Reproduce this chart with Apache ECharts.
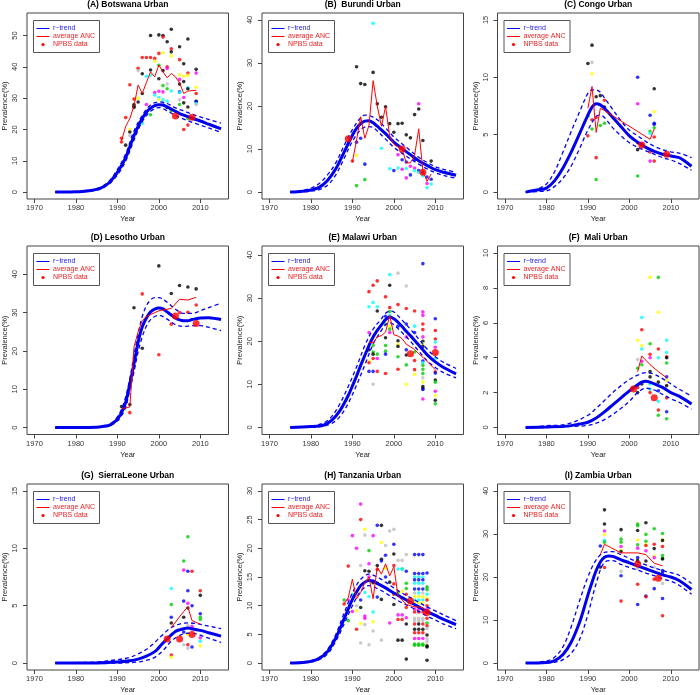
<!DOCTYPE html>
<html><head><meta charset="utf-8">
<script src="https://cdn.jsdelivr.net/npm/echarts@6/dist/echarts.min.js"></script>
<style>html,body{margin:0;padding:0;background:#fff}#c{width:700px;height:695px}</style>
</head><body><div id="c"></div>
<script>
// ---------- DATA ----------
const titles = ['(A) Botswana Urban','(B)  Burundi Urban','(C) Congo Urban','(D) Lesotho Urban','(E) Malawi Urban','(F)  Mali Urban','(G)  SierraLeone Urban','(H) Tanzania Urban','(I) Zambia Urban'];
const xTicks = [1970,1980,1990,2000,2010];
const yTicksA = [0,10,20,30,40,50];
const yTicksB = [0,10,20,30,40];
const yTicksC = [0,5,10,15];
const yTicksD = [0,10,20,30,40];
const yTicksE = [0,10,20,30,40];
const yTicksF = [0,2,4,6,8,10];
const yTicksG = [0,5,10,15];
const yTicksH = [0,5,10,15,20,25,30];
const yTicksI = [0,10,20,30,40];
const legendLabels = ['r\u2212trend','average ANC','NPBS data'];
// site index of each ANC clinic: 1..8 (R default palette order)

// (A) Botswana
const trendA = [[1975,0],[1978,0.05],[1980,0.1],[1982,0.3],[1984,0.6],[1985,0.9],[1986,1.3],[1987,2.0],[1988,3.0],[1989,4.5],[1990,6.3],[1991,8.5],[1992,11],[1993,14.5],[1994,18],[1995,21],[1996,23.5],[1997,25.5],[1998,26.8],[1999,27.6],[2000,27.9],[2001,27.8],[2002,27.2],[2003,26.5],[2004,25.8],[2005,25.1],[2006,24.6],[2007,24.1],[2008,23.6],[2010,22.7],[2012,21.7],[2015,20.2]];
const upA = [[1975,0],[1980,0.15],[1984,0.8],[1986,1.6],[1988,3.5],[1990,7.2],[1992,12.2],[1994,19.5],[1996,24.5],[1998,27.8],[2000,28.8],[2002,28.3],[2004,26.9],[2006,25.9],[2008,24.9],[2010,24.0],[2012,23.2],[2015,22.0]];
const loA = [[1975,0],[1980,0.05],[1984,0.45],[1986,1.0],[1988,2.6],[1990,5.5],[1992,9.9],[1994,16.6],[1996,22.5],[1998,25.8],[2000,27.0],[2002,26.0],[2004,24.4],[2006,23.3],[2008,22.3],[2010,21.4],[2012,20.5],[2015,19.1]];
const ancA = [[1991,16.3],[1992,21],[1993,23.5],[1994,27.5],[1995,34.2],[1996,31.5],[1997,35],[1998,38.4],[1999,36.8],[2000,40.6],[2001,38.4],[2002,36.5],[2003,37.9],[2004,36.8],[2005,34.9],[2006,31.5],[2007,32.3],[2009,32.5]];
const npbsA = [[2004,24.3],[2008,23.9]];
const ptsA = [[1991,17.2,2],[1991,16.0,2],[1992,15.0,1],[1992,23.8,2],[1993,34.3,2],[1993,20.0,7],[1993,19.2,1],[1993,18.1,8],[1994,28.0,1],[1994,27.4,1],[1994,27.0,1],[1994,29.7,2],[1995,39.5,2],[1995,38.8,8],[1995,30.0,7],[1995,28.8,1],[1996,43.0,2],[1996,37.8,1],[1996,31.5,1],[1996,22.0,5],[1997,43.0,2],[1997,28.0,6],[1997,37.0,5],[1998,50.0,1],[1998,43.0,2],[1998,39.0,1],[1998,37.3,5],[1998,24.7,3],[1999,42.7,2],[1999,41.8,7],[1999,31.8,6],[1999,31.0,5],[2000,50.2,1],[2000,44.3,2],[2000,40.5,3],[2000,36.2,1],[2000,32.2,6],[2000,30.2,5],[2000,29.5,7],[2001,50.0,1],[2001,49.5,2],[2001,44.5,7],[2001,38.8,1],[2001,34.0,3],[2001,32.0,6],[2001,29.5,5],[2001,28.6,8],[2002,48.0,1],[2002,40.0,2],[2002,39.5,6],[2002,34.5,8],[2002,33.0,3],[2002,29.0,5],[2002,27.0,1],[2003,52.0,1],[2003,45.8,2],[2003,44.8,1],[2003,43.5,7],[2003,32.3,5],[2003,26.0,3],[2005,46.4,1],[2005,42.3,2],[2005,37.5,7],[2005,36.0,6],[2005,34.5,1],[2005,32.0,4],[2005,31.8,5],[2005,29.5,8],[2005,28.0,3],[2006,41.0,1],[2006,37.0,7],[2006,35.3,1],[2006,30.2,6],[2006,28.5,1],[2006,20.0,2],[2007,48.9,1],[2007,38.0,2],[2007,37.3,7],[2007,33.3,5],[2007,33.0,1],[2007,27.2,1],[2007,23.5,3],[2007,21.4,2],[2009,39.2,1],[2009,38.0,6],[2009,33.5,7],[2009,31.5,2],[2009,29.0,1],[2009,28.9,4],[2009,28.3,5],[2009,28.0,8]];

// (B) Burundi
const trendB = [[1975,0],[1978,0.2],[1980,0.5],[1982,1.1],[1984,2.7],[1986,5.4],[1988,9.3],[1990,13.2],[1991,14.8],[1992,15.9],[1993,16.5],[1994,16.6],[1995,16.1],[1996,15.3],[1998,13.6],[2000,11.6],[2002,10.1],[2004,8.7],[2006,7.3],[2008,6.2],[2010,5.2],[2012,4.6],[2015,3.9]];
const upB = [[1975,0],[1978,0.4],[1980,0.9],[1982,2.0],[1984,4.0],[1986,6.8],[1988,10.8],[1990,14.5],[1992,17.3],[1993,17.9],[1994,17.8],[1996,16.8],[1998,14.9],[2000,12.8],[2002,11.2],[2004,9.6],[2006,8.1],[2008,6.9],[2010,5.9],[2012,5.3],[2015,4.6]];
const loB = [[1975,0],[1978,0.1],[1980,0.2],[1982,0.6],[1984,1.6],[1986,4.0],[1988,7.8],[1990,11.8],[1992,14.5],[1993,15.1],[1994,15.2],[1995,15.0],[1996,14.2],[1998,12.3],[2000,10.4],[2002,9.0],[2004,7.7],[2006,6.5],[2008,5.4],[2010,4.5],[2012,3.9],[2015,3.2]];
const ancB = [[1990,7.0],[1991,12.0],[1992,17.5],[1993,12.5],[1994,15.5],[1995,25.9],[1996,20.0],[1997,15.3],[1998,19.8],[1999,13.0],[2000,11.1],[2001,10.5],[2002,10.0],[2003,6.8],[2004,6.8],[2005,8.5],[2006,14.7],[2007,5.0],[2008,2.5],[2009,4.2]];
const npbsB = [[1989,12.4],[2002,10.0],[2007,4.6]];
const ptsB = [[1990,7.2,2],[1991,29.1,1],[1991,11.6,4],[1991,8.5,7],[1991,1.5,3],[1992,25.2,1],[1992,12.5,4],[1992,16.0,2],[1993,25.0,1],[1993,6.5,4],[1993,2.9,3],[1995,39.2,5],[1995,27.8,1],[1996,20.5,1],[1997,17.4,1],[1997,10.2,5],[1998,19.8,1],[1999,15.9,1],[1999,5.4,5],[2000,13.9,1],[2000,5.0,4],[2001,15.9,1],[2001,8.7,6],[2001,5.6,5],[2002,16.0,1],[2002,7.5,4],[2002,5.3,6],[2003,13.3,1],[2003,7.0,4],[2003,5.5,5],[2003,3.3,6],[2004,12.6,1],[2004,6.0,6],[2004,4.0,4],[2005,18.0,1],[2005,7.5,4],[2005,5.6,6],[2005,5.0,5],[2006,20.5,6],[2006,19.3,1],[2006,5.0,4],[2006,4.6,5],[2007,12.0,1],[2007,4.5,4],[2007,3.8,5],[2008,3.5,4],[2008,2.0,6],[2008,1.0,5],[2009,7.2,1],[2009,3.0,4],[2009,1.9,5]];

// (C) Congo
const trendC = [[1975,0],[1978,0.2],[1980,0.35],[1982,1.0],[1984,2.1],[1986,3.5],[1988,5.1],[1990,6.7],[1991,7.4],[1992,7.7],[1993,7.6],[1994,7.3],[1996,6.5],[1998,5.7],[2000,4.9],[2002,4.35],[2004,3.9],[2006,3.55],[2008,3.3],[2010,3.15],[2012,3.0],[2013,2.8],[2015,2.25]];
const upC = [[1975,0],[1978,0.3],[1980,0.7],[1982,1.8],[1984,3.5],[1986,5.3],[1988,7.0],[1990,8.6],[1991,8.9],[1992,8.9],[1993,8.7],[1994,8.2],[1996,7.2],[1998,6.2],[2000,5.4],[2002,4.9],[2004,4.4],[2006,4.0],[2008,3.7],[2010,3.5],[2012,3.4],[2015,3.0]];
const loC = [[1975,0],[1978,0.05],[1980,0.1],[1982,0.5],[1984,1.2],[1986,2.3],[1988,3.8],[1990,5.4],[1992,6.6],[1993,6.7],[1994,6.5],[1996,5.6],[1998,4.9],[2000,4.3],[2002,3.9],[2004,3.6],[2006,3.3],[2008,3.0],[2010,2.8],[2012,2.5],[2015,1.9]];
const ancC = [[1990,7.3],[1991,9.2],[1992,5.2],[1993,7.3],[1994,7.1],[2005,4.6],[2006,5.5]];
const npbsC = [[2003,4.1],[2009,3.3]];
const ptsC = [[1990,11.2,1],[1990,6.6,3],[1990,4.9,2],[1991,12.8,1],[1991,11.3,8],[1991,10.3,7],[1991,6.3,2],[1991,5.5,3],[1992,8.3,1],[1992,6.5,2],[1992,3.0,2],[1992,1.1,3],[1993,8.4,1],[1993,5.8,3],[1994,7.4,1],[1994,8.0,2],[1994,6.0,3],[2002,10.0,4],[2002,7.7,6],[2002,4.3,2],[2002,3.7,1],[2002,1.4,3],[2003,4.2,6],[2005,6.7,4],[2005,5.3,3],[2005,5.1,5],[2005,3.5,2],[2005,2.7,6],[2006,9.0,1],[2006,7.0,7],[2006,6.0,4],[2006,5.9,4],[2006,5.6,3],[2006,4.8,2],[2006,2.7,2]];

// (D) Lesotho
const trendD = [[1975,0],[1985,0.1],[1987,0.4],[1988,0.6],[1989,1.2],[1990,2.2],[1991,3.9],[1992,6.6],[1993,11.4],[1994,16.6],[1995,22.3],[1996,26.3],[1997,28.6],[1998,30.2],[1999,30.9],[2000,31.2],[2001,31.0],[2002,30.2],[2003,29.4],[2004,28.6],[2005,28.1],[2006,27.9],[2007,27.9],[2008,28.2],[2010,28.6],[2012,28.7],[2014,28.4],[2015,28.2]];
const upD = [[1975,0],[1985,0.15],[1988,0.8],[1990,2.8],[1991,4.8],[1992,8.0],[1993,12.8],[1994,18.8],[1995,24.5],[1996,29.0],[1997,31.8],[1998,33.3],[1999,33.9],[2000,33.9],[2002,32.7],[2004,30.9],[2006,29.8],[2008,29.8],[2010,30.5],[2012,31.3],[2015,32.5]];
const loD = [[1975,0],[1985,0.05],[1988,0.45],[1990,1.7],[1991,3.1],[1992,5.3],[1993,9.8],[1994,14.5],[1995,19.8],[1996,23.7],[1997,26.5],[1998,28.2],[1999,29.0],[2000,29.3],[2002,28.3],[2004,26.9],[2006,26.4],[2008,26.6],[2010,26.6],[2012,26.2],[2015,25.3]];
const ancD = [[1991,5.0],[1992,5.1],[1993,5.4],[1994,21.0],[1995,25.0],[1996,28.0],[1997,29.0],[1998,29.5],[2000,30.5],[2003,31.1],[2005,33.5],[2007,33.3],[2009,34.0]];
const npbsD = [[2004,29.1],[2009,27.2]];
const ptsD = [[1991,5.5,1],[1993,6.0,1],[1993,10.9,2],[1993,3.9,2],[1994,31.3,1],[1996,34.9,2],[1996,20.7,1],[2000,42.2,1],[2000,19.0,2],[2003,35.0,1],[2003,27.0,2],[2005,37.1,1],[2005,30.0,2],[2007,36.7,1],[2007,30.1,2],[2009,36.2,1],[2009,32.0,2]];

// (E) Malawi
const trendE = [[1975,0],[1980,0.2],[1983,0.5],[1985,1.6],[1987,3.9],[1989,7.4],[1990,9.6],[1991,11.9],[1992,14.4],[1993,16.7],[1994,19.0],[1995,21.0],[1996,22.5],[1997,23.8],[1998,25.0],[1999,25.6],[2000,25.2],[2001,24.4],[2002,23.4],[2003,22.3],[2004,21.3],[2005,20.2],[2006,19.1],[2007,18.0],[2008,16.9],[2010,15.2],[2012,13.9],[2015,12.4]];
const upE = [[1975,0],[1980,0.3],[1983,1.0],[1985,2.5],[1987,5.5],[1989,9.5],[1991,14.0],[1993,19.0],[1995,22.8],[1997,25.2],[1998,26.5],[1999,27.0],[2000,26.8],[2002,24.9],[2004,22.8],[2006,20.5],[2008,18.2],[2010,16.4],[2012,15.1],[2015,13.7]];
const loE = [[1975,0],[1980,0.1],[1983,0.3],[1985,0.9],[1987,2.5],[1989,5.6],[1991,9.8],[1993,14.5],[1995,19.3],[1997,22.5],[1998,23.8],[1999,24.3],[2000,23.8],[2002,22.0],[2004,20.0],[2006,17.7],[2008,15.5],[2010,13.9],[2012,12.7],[2015,11.5]];
const ancE = [[1994,19.8],[1995,19.6],[1996,21.0],[1997,21.3],[1998,22.1],[1999,26.0],[2000,21.5],[2001,21.2],[2002,20.6],[2003,19.3],[2004,18.7],[2005,18.1],[2006,17.1],[2007,16.3],[2010,13.4]];
const npbsE = [[2004,17.1],[2010,17.4]];
const ptsE = [[1994,31.5,2],[1994,28.0,5],[1994,22.0,6],[1994,18.0,1],[1994,15.4,7],[1994,15.0,2],[1994,13.0,4],[1995,33.0,2],[1995,29.0,5],[1995,19.0,3],[1995,17.5,3],[1995,17.0,1],[1995,16.0,2],[1995,13.0,4],[1995,10.0,8],[1996,34.0,2],[1996,28.0,5],[1996,27.0,1],[1996,17.0,3],[1996,16.0,6],[1996,13.0,2],[1998,30.3,2],[1998,25.8,4],[1998,24.0,3],[1998,20.8,1],[1998,19.0,3],[1998,17.7,3],[1998,17.0,4],[1998,12.5,2],[1999,35.5,5],[1999,33.0,1],[1999,27.8,2],[1999,26.9,3],[1999,26.0,5],[1999,23.5,7],[1999,22.8,3],[1999,22.0,6],[2001,35.8,8],[2001,28.5,2],[2001,23.5,4],[2001,20.1,1],[2001,19.2,7],[2001,18.8,1],[2001,16.4,3],[2001,13.5,2],[2003,32.8,8],[2003,27.6,2],[2003,24.0,4],[2003,21.0,6],[2003,18.0,4],[2003,16.8,1],[2003,14.5,3],[2003,10.0,7],[2005,27.0,2],[2005,23.5,5],[2005,22.0,4],[2005,17.5,3],[2005,15.5,2],[2005,13.4,2],[2005,12.3,7],[2007,38.0,4],[2007,26.8,6],[2007,26.0,6],[2007,24.0,2],[2007,22.7,2],[2007,21.0,6],[2007,20.0,1],[2007,19.4,7],[2007,18.8,1],[2007,15.4,4],[2007,15.0,5],[2007,14.4,3],[2007,13.5,3],[2007,12.5,3],[2007,11.5,8],[2007,10.5,7],[2007,9.5,1],[2007,9.0,1],[2007,8.8,4],[2007,6.6,6],[2010,25.2,4],[2010,22.5,2],[2010,20.5,2],[2010,19.8,5],[2010,18.6,6],[2010,17.0,8],[2010,16.0,5],[2010,12.9,2],[2010,12.6,4],[2010,11.0,1],[2010,10.5,3],[2010,8.4,6],[2010,7.4,7],[2010,6.3,1],[2010,5.5,3]];

// (F) Mali
const trendF = [[1975,0],[1980,0.03],[1985,0.08],[1988,0.2],[1990,0.3],[1992,0.55],[1994,0.9],[1996,1.3],[1998,1.7],[2000,2.1],[2002,2.45],[2003,2.6],[2004,2.65],[2005,2.6],[2006,2.5],[2008,2.3],[2010,2.0],[2012,1.8],[2015,1.35]];
const upF = [[1975,0],[1980,0.1],[1985,0.2],[1990,0.7],[1992,1.1],[1994,1.55],[1996,2.0],[1998,2.4],[2000,2.75],[2002,3.0],[2004,3.15],[2006,3.05],[2008,2.8],[2010,2.5],[2012,2.2],[2015,1.8]];
const loF = [[1975,0],[1980,0],[1985,0.05],[1990,0.12],[1992,0.25],[1994,0.45],[1996,0.75],[1998,1.1],[2000,1.5],[2002,2.0],[2004,2.25],[2006,2.15],[2008,1.9],[2010,1.65],[2012,1.45],[2015,1.05]];
const ancF = [[2002,3.2],[2003,4.1],[2005,3.6],[2007,3.2],[2009,2.85]];
const npbsF = [[2001,2.2],[2006,1.7]];
const ptsF = [[2002,5.0,7],[2002,3.9,8],[2002,3.4,3],[2002,2.3,2],[2002,2.0,1],[2003,6.3,5],[2003,5.6,2],[2003,4.7,7],[2003,4.5,5],[2003,3.8,6],[2003,3.6,3],[2003,2.5,1],[2005,8.6,7],[2005,4.8,3],[2005,4.2,2],[2005,4.0,6],[2005,3.2,1],[2005,2.9,1],[2005,2.5,5],[2005,2.2,5],[2005,2.0,2],[2007,8.6,3],[2007,6.6,7],[2007,4.5,2],[2007,4.0,5],[2007,2.6,1],[2007,2.1,4],[2007,1.5,5],[2007,1.0,2],[2007,0.7,3],[2009,5.0,5],[2009,4.3,5],[2009,4.05,2],[2009,4.0,1],[2009,3.7,3],[2009,2.9,4],[2009,2.7,7],[2009,2.4,1],[2009,1.7,2],[2009,0.9,4],[2009,0.5,3]];

// (G) Sierra Leone
const trendG = [[1975,0],[1985,0.02],[1990,0.1],[1993,0.2],[1995,0.35],[1997,0.6],[1999,1.0],[2000,1.35],[2001,1.75],[2002,2.1],[2003,2.45],[2004,2.75],[2005,2.9],[2006,3.0],[2007,3.05],[2008,3.0],[2010,2.85],[2012,2.65],[2015,2.35]];
const upG = [[1975,0],[1980,0.05],[1985,0.1],[1990,0.3],[1993,0.5],[1995,0.8],[1997,1.2],[1999,1.8],[2001,2.5],[2003,3.1],[2005,3.4],[2007,3.5],[2009,3.45],[2011,3.3],[2013,3.15],[2015,3.0]];
const loG = [[1975,0],[1990,0],[1995,0.1],[1997,0.25],[1999,0.5],[2001,1.1],[2003,1.9],[2005,2.4],[2007,2.6],[2009,2.55],[2011,2.3],[2013,2.05],[2015,1.8]];
const ancG = [[2003,3.1],[2006,4.5],[2007,4.9],[2008,3.7],[2010,3.4]];
const npbsG = [[2002,2.1],[2005,2.1],[2008,2.5]];
const ptsG = [[2003,6.5,5],[2003,5.1,3],[2003,4.0,4],[2003,3.5,1],[2003,0.7,2],[2003,0.5,7],[2006,8.9,3],[2006,8.1,6],[2006,5.4,4],[2006,4.0,1],[2006,2.7,4],[2006,1.6,8],[2007,11.0,3],[2007,8.0,4],[2007,6.3,4],[2007,5.2,6],[2007,4.8,1],[2007,3.3,8],[2007,2.5,7],[2007,1.6,2],[2007,1.3,8],[2008,8.0,2],[2008,5.0,4],[2008,3.2,6],[2008,2.9,8],[2008,1.4,4],[2010,6.3,2],[2010,5.9,1],[2010,4.3,4],[2010,4.0,3],[2010,3.8,3],[2010,2.2,6],[2010,1.9,5],[2010,1.5,7]];

// (H) Tanzania
const trendH = [[1975,0],[1978,0.1],[1980,0.3],[1982,0.8],[1984,2.0],[1986,4.4],[1988,7.7],[1990,11.1],[1991,12.4],[1992,13.5],[1993,14.1],[1994,14.4],[1995,14.3],[1996,13.9],[1998,13.1],[2000,12.2],[2002,11.4],[2004,10.6],[2006,9.8],[2008,9.0],[2010,8.3],[2012,7.6],[2015,6.7]];
const upH = [[1975,0],[1980,0.4],[1982,1.0],[1984,2.4],[1986,5.0],[1988,8.7],[1990,12.2],[1992,14.6],[1994,15.5],[1996,15.0],[1998,14.1],[2000,13.1],[2002,12.2],[2004,11.4],[2006,10.6],[2008,9.8],[2010,9.1],[2012,8.4],[2015,7.4]];
const loH = [[1975,0],[1980,0.2],[1982,0.6],[1984,1.6],[1986,3.8],[1988,6.8],[1990,10.0],[1992,12.5],[1994,13.5],[1996,13.0],[1998,12.2],[2000,11.3],[2002,10.5],[2004,9.8],[2006,9.0],[2008,8.2],[2010,7.5],[2012,6.8],[2015,6.0]];
const ancH = [[1988,10.3],[1989,11.4],[1990,14.6],[1991,11.2],[1992,12.3],[1993,14.0],[1994,15.0],[1995,11.2],[1996,16.7],[1997,15.5],[1998,17.3],[1999,15.2],[2000,16.8],[2001,11.7],[2002,11.0],[2003,10.2],[2004,10.0],[2005,9.8],[2006,9.8],[2007,9.6],[2008,8.6]];
const npbsH = [[2004,10.8],[2008,8.8]];
const ptsH = [[1988,11.0,3],[1988,10.3,2],[1989,16.9,2],[1989,11.0,6],[1989,7.4,3],[1990,22.2,6],[1990,12.0,5],[1990,9.0,6],[1991,20.0,6],[1991,10.0,8],[1991,9.1,7],[1991,5.9,2],[1992,27.7,6],[1992,25.0,2],[1992,17.0,8],[1992,11.0,4],[1992,9.7,1],[1992,6.9,7],[1992,3.5,8],[1993,23.3,7],[1993,22.3,8],[1993,16.1,1],[1993,12.3,5],[1993,8.2,6],[1993,7.8,6],[1993,6.7,8],[1994,19.6,3],[1994,17.3,6],[1994,16.0,1],[1994,15.0,6],[1994,11.6,5],[1994,3.2,8],[1995,22.2,6],[1995,14.0,1],[1995,8.9,5],[1995,7.2,7],[1995,5.6,8],[1996,24.0,4],[1996,17.0,1],[1996,16.3,2],[1996,13.9,1],[1996,11.5,4],[1997,24.0,1],[1997,21.0,7],[1997,18.1,1],[1997,17.8,4],[1997,11.1,1],[1997,4.0,8],[1998,20.5,8],[1998,18.8,4],[1998,16.5,7],[1998,15.0,4],[1999,23.0,8],[1999,14.1,1],[1999,7.0,6],[2000,23.3,8],[2000,20.7,4],[2000,19.0,1],[2000,17.0,2],[2000,13.8,2],[2000,12.0,2],[2000,10.2,1],[2001,17.9,8],[2001,16.4,5],[2001,12.3,3],[2001,8.4,6],[2001,7.6,2],[2001,4.0,1],[2002,17.9,8],[2002,16.4,3],[2002,16.4,5],[2002,12.5,7],[2002,8.4,6],[2002,7.6,2],[2002,4.0,1],[2003,18.9,8],[2003,16.0,4],[2003,13.9,3],[2003,13.0,3],[2003,12.0,2],[2003,11.1,7],[2003,9.7,2],[2003,7.9,6],[2003,6.8,1],[2003,0.7,1],
[2005,18.9,4],[2005,15.6,4],[2005,15.0,5],[2005,14.5,4],[2005,13.9,5],[2005,12.9,4],[2005,12.2,8],[2005,11.6,7],[2005,11.0,5],[2005,10.5,7],[2005,9.4,6],[2005,8.9,2],[2005,7.8,8],[2005,7.4,8],[2005,6.8,2],[2005,5.9,1],[2005,5.3,2],[2005,4.3,6],[2005,3.3,3],[2005,3.1,3],
[2006,18.9,4],[2006,15.6,4],[2006,15.0,5],[2006,14.5,4],[2006,13.9,5],[2006,12.9,4],[2006,12.2,5],[2006,11.6,7],[2006,11.0,5],[2006,10.5,7],[2006,9.4,6],[2006,8.9,2],[2006,7.8,8],[2006,7.4,8],[2006,6.8,1],[2006,5.9,1],[2006,5.3,2],[2006,4.3,6],[2006,3.3,3],[2006,3.1,3],
[2007,18.9,4],[2007,15.6,4],[2007,15.0,5],[2007,14.5,4],[2007,13.9,5],[2007,12.9,4],[2007,12.2,8],[2007,11.6,7],[2007,11.0,5],[2007,10.5,7],[2007,9.4,6],[2007,8.9,2],[2007,7.8,8],[2007,7.4,8],[2007,6.8,2],[2007,5.9,1],[2007,5.3,2],[2007,4.3,6],[2007,3.3,3],[2007,3.1,3],
[2008,15.7,4],[2008,13.4,8],[2008,13.2,3],[2008,12.8,3],[2008,12.0,5],[2008,11.3,7],[2008,11.0,2],[2008,10.0,2],[2008,9.4,6],[2008,8.8,6],[2008,7.8,2],[2008,7.0,3],[2008,6.5,2],[2008,6.0,8],[2008,4.9,1],[2008,4.2,8],[2008,3.7,8],[2008,3.0,1],[2008,2.8,1],[2008,0.5,1]];

// (I) Zambia
const trendI = [[1975,0],[1980,0.15],[1982,0.6],[1984,2.0],[1986,4.9],[1988,9.5],[1989,12.5],[1990,15.8],[1991,18.8],[1992,21.5],[1993,23.5],[1994,24.6],[1995,24.9],[1996,24.8],[1998,24.0],[2000,23.3],[2002,22.6],[2004,21.9],[2006,21.2],[2008,20.5],[2010,20.0],[2012,19.2],[2015,17.1]];
const upI = [[1975,0],[1980,0.5],[1982,1.4],[1984,3.8],[1986,8.5],[1988,14.5],[1990,20.0],[1992,24.0],[1994,25.7],[1996,25.9],[1998,25.2],[2000,24.3],[2002,23.5],[2004,22.8],[2006,22.1],[2008,21.5],[2010,21.0],[2012,20.4],[2015,18.5]];
const loI = [[1975,0],[1980,0.05],[1982,0.2],[1984,0.8],[1986,2.3],[1988,5.5],[1990,11.3],[1992,18.5],[1994,23.4],[1996,23.8],[1998,22.9],[2000,22.2],[2002,21.6],[2004,20.9],[2006,20.3],[2008,19.6],[2010,19.0],[2012,18.1],[2015,16.0]];
const ancI = [[1993,25.2],[1994,27.6],[1998,25.6],[2002,25.6],[2004,25.2],[2006,23.2],[2008,22.6]];
const npbsI = [[2002,23.0],[2007,19.7]];
const ptsI = [[1993,27.2,4],[1993,22.3,1],[1994,35.6,1],[1994,32.3,1],[1994,30.7,6],[1994,29.9,7],[1994,28.5,5],[1994,28.1,3],[1994,22.2,2],[1998,31.0,1],[1998,28.8,3],[1998,28.1,3],[1998,27.1,6],[1998,26.2,7],[1998,25.9,1],[1998,21.3,8],[1998,20.3,4],[1998,14.4,2],[2002,32.3,3],[2002,31.9,3],[2002,30.8,1],[2002,28.6,7],[2002,27.5,3],[2002,26.7,6],[2002,24.5,4],[2002,23.8,1],[2002,22.0,8],[2002,18.3,2],[2002,13.6,4],[2004,32.6,1],[2004,29.9,3],[2004,28.3,3],[2004,27.5,7],[2004,27.3,2],[2004,26.1,6],[2004,23.7,1],[2004,22.0,8],[2004,15.6,4],[2004,15.4,2],[2006,31.2,3],[2006,27.6,2],[2006,26.6,1],[2006,24.8,7],[2006,24.5,6],[2006,22.3,8],[2006,19.5,2],[2006,17.3,4],[2008,30.1,3],[2008,28.6,7],[2008,28.5,1],[2008,27.1,2],[2008,25.0,3],[2008,24.3,3],[2008,24.2,1],[2008,21.5,4],[2008,21.0,4],[2008,18.5,8],[2008,15.0,4],[2008,11.0,2]];

// ---------- LAYOUT / STYLE ----------
const sitePalette = ['#000000','#FF0000','#00CD00','#0000FF','#00FFFF','#FF00FF','#FFFF00','#BEBEBE'];
const FONT = '"Liberation Sans", Arial, Helvetica, sans-serif';
const colLeft = [27, 262, 497.5], colW = 201.5;
const rowTop = [13, 246, 484], rowH = [186, 188.5, 186.5];
const xRange = [1968.2, 2016.8];
const yRanges = [[-2.2,57.2],[-1.6,41.6],[-0.6,15.6],[-1.8,47.4],[-1.65,42.1],[-0.4,10.4],[-0.6,15.6],[-1.2,31.2],[-1.6,41.6]];

const panels = [
  {yt:yTicksA, trend:trendA, up:upA, lo:loA, anc:ancA, npbs:npbsA, pts:ptsA},
  {yt:yTicksB, trend:trendB, up:upB, lo:loB, anc:ancB, npbs:npbsB, pts:ptsB},
  {yt:yTicksC, trend:trendC, up:upC, lo:loC, anc:ancC, npbs:npbsC, pts:ptsC},
  {yt:yTicksD, trend:trendD, up:upD, lo:loD, anc:ancD, npbs:npbsD, pts:ptsD},
  {yt:yTicksE, trend:trendE, up:upE, lo:loE, anc:ancE, npbs:npbsE, pts:ptsE},
  {yt:yTicksF, trend:trendF, up:upF, lo:loF, anc:ancF, npbs:npbsF, pts:ptsF},
  {yt:yTicksG, trend:trendG, up:upG, lo:loG, anc:ancG, npbs:npbsG, pts:ptsG},
  {yt:yTicksH, trend:trendH, up:upH, lo:loH, anc:ancH, npbs:npbsH, pts:ptsH},
  {yt:yTicksI, trend:trendI, up:upI, lo:loI, anc:ancI, npbs:npbsI, pts:ptsI}
];

const plain = (v) => String(v);
const grid = [], xAxis = [], yAxis = [], series = [], title = [], graphic = [];
panels.forEach((p, i) => {
  const r = Math.floor(i / 3), c = i % 3;
  const L = colLeft[c], T = rowTop[r], H = rowH[r];
  grid.push({left: L, top: T, width: colW, height: H, show: true, borderColor: '#444', borderWidth: 1, backgroundColor: 'transparent', containLabel: false});
  title.push({text: titles[i], left: L + colW / 2, top: T - 13, textAlign: 'center', padding: 0,
    textStyle: {fontSize: 8.5, fontWeight: 'bold', color: '#000', fontFamily: FONT}});
  xAxis.push({type: 'value', gridIndex: i, min: xRange[0], max: xRange[1],
    axisLine: {show: false, onZero: false}, splitLine: {show: false},
    axisTick: {show: true, customValues: xTicks, length: 4, lineStyle: {color: '#444', width: 1}},
    axisLabel: {customValues: xTicks, formatter: plain, fontSize: 7.5, color: '#333', margin: 5, fontFamily: FONT},
    name: 'Year', nameLocation: 'middle', nameGap: 16,
    nameTextStyle: {fontSize: 7.5, color: '#222', fontFamily: FONT}});
  yAxis.push({type: 'value', gridIndex: i, min: yRanges[i][0], max: yRanges[i][1],
    axisLine: {show: false, onZero: false}, splitLine: {show: false},
    axisTick: {show: true, customValues: p.yt, length: 4, lineStyle: {color: '#444', width: 1}},
    axisLabel: {customValues: p.yt, formatter: plain, rotate: 90, fontSize: 7.5, color: '#333', margin: 8, fontFamily: FONT},
    name: 'Prevalence(%)', nameLocation: 'middle', nameGap: 18, nameRotate: 90,
    nameTextStyle: {fontSize: 7.5, color: '#222', fontFamily: FONT}});

  const base = {xAxisIndex: i, yAxisIndex: i, silent: true, animation: false};
  series.push(Object.assign({type: 'scatter', data: p.pts, symbol: 'circle', symbolSize: 3.6, z: 2,
    itemStyle: {color: (d) => sitePalette[d.data[2] - 1]}}, base));
  [p.lo, p.up].forEach(b => series.push(Object.assign({type: 'line', data: b, smooth: 0.35, showSymbol: false, symbol: 'none', z: 3,
    lineStyle: {color: '#0000FF', width: 1.3, type: [4, 3]}}, base)));
  series.push(Object.assign({type: 'line', data: p.trend, smooth: 0.35, showSymbol: false, symbol: 'none', z: 4,
    lineStyle: {color: '#0000EE', width: 3}}, base));
  series.push(Object.assign({type: 'line', data: p.anc, showSymbol: false, symbol: 'none', z: 5,
    lineStyle: {color: '#FF0000', width: 1}}, base));
  series.push(Object.assign({type: 'scatter', data: p.npbs, symbol: 'circle', symbolSize: 7, z: 6,
    itemStyle: {color: '#FF0000'}}, base));

  // legend box (top-left inside each panel)
  const bx = L + 6.5, by = T + 7.5;
  const rows = [by + 8, by + 16, by + 24];
  const lcol = ['#2222EE', '#EE2222', '#EE2222'];
  graphic.push({type: 'rect', shape: {x: bx, y: by, width: 66, height: 32}, style: {fill: '#fff', stroke: '#555', lineWidth: 1}, z: 100});
  graphic.push({type: 'line', shape: {x1: bx + 3, y1: rows[0], x2: bx + 16, y2: rows[0]}, style: {stroke: '#0000FF', lineWidth: 1}, z: 101});
  graphic.push({type: 'line', shape: {x1: bx + 3, y1: rows[1], x2: bx + 16, y2: rows[1]}, style: {stroke: '#FF0000', lineWidth: 1}, z: 101});
  graphic.push({type: 'circle', shape: {cx: bx + 9.5, cy: rows[2], r: 1.6}, style: {fill: '#FF0000'}, z: 101});
  legendLabels.forEach((t, k) => graphic.push({type: 'text', x: bx + 19.5, y: rows[k], z: 101,
    style: {text: t, fill: lcol[k], fontSize: 7, fontFamily: FONT, verticalAlign: 'middle', align: 'left'}}));
});

const chart = echarts.init(document.getElementById('c'), null, {renderer: 'canvas'});
chart.setOption({backgroundColor: '#fff', animation: false, title, grid, xAxis, yAxis, series, graphic});
</script>
</body></html>
